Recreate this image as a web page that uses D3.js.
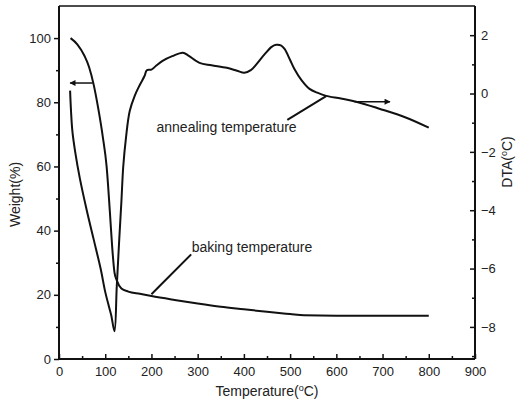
<!DOCTYPE html>
<html>
<head>
<meta charset="utf-8">
<script src="https://cdn.jsdelivr.net/npm/d3@7"></script>
<style>
  html, body { margin: 0; padding: 0; background: #fff; }
  svg { display: block; font-family: Arial, "Liberation Sans", sans-serif; }
</style>
</head>
<body>
<svg id="chart" width="518" height="402"></svg>
<script>
// ---- Data ----
const tgTemp = [25, 40, 55, 65, 75, 85, 95, 103, 110, 115, 120, 125, 135, 150, 175, 200, 250, 300, 350, 400, 450, 500, 530, 600, 700, 800];
const tgWeight = [100, 98, 94.5, 91, 85.5, 78, 69, 60, 46, 35, 27, 24.5, 22, 21, 20.3, 19.6, 18.4, 17.3, 16.3, 15.5, 14.7, 14, 13.6, 13.5, 13.5, 13.5];

const dtaTemp = [24, 26, 29, 35, 45, 60, 75, 90, 100, 108, 113, 120, 125, 130, 135, 139, 145, 153, 164, 175, 185, 190, 200, 210, 224, 245, 268, 280, 304, 330, 363, 385, 401, 415, 427, 445, 460, 470, 480, 488, 500, 509, 525, 542, 560, 578, 610, 643, 693, 750, 800];
const dtaValue = [0.1, -0.6, -1.3, -2.0, -2.9, -4.0, -5.0, -6.0, -6.8, -7.3, -7.6, -8.15, -6.6, -5.1, -3.7, -2.5, -1.5, -0.6, -0.07, 0.3, 0.6, 0.8, 0.82, 0.95, 1.12, 1.28, 1.40, 1.3, 1.05, 0.97, 0.88, 0.78, 0.71, 0.8, 1.0, 1.35, 1.6, 1.67, 1.65, 1.53, 1.15, 0.85, 0.45, 0.16, 0.02, -0.08, -0.17, -0.28, -0.52, -0.82, -1.17];

const xTicks = [0, 100, 200, 300, 400, 500, 600, 700, 800, 900];
const yLeftTicks = [0, 20, 40, 60, 80, 100];
const yRightTicks = [-8, -6, -4, -2, 0, 2];

const xDomain = [0, 900];
const yLeftDomain = [0, 110];
const yRightDomain = [-9.1, 3.0];

// annotations in data space
const leftArrow = { from: [73, 86], to: [24, 86] };               // weight axis
const rightArrow = { from: [639, -0.28], to: [716, -0.28] };      // DTA axis
const bakingLine = { from: [200, 20.2], to: [286, 32.6], label: "baking temperature", labelAt: [287, 33.3] };
const annealLine = { from: [494, -0.9], to: [578, -0.09], label: "annealing temperature", labelAt: [211, -1.33] };

// ---- Layout ----
const svg = d3.select("#chart");
const L = 59, R = 475, T = 6, B = 359;

const x = d3.scaleLinear().domain(xDomain).range([L, R]);
const yL = d3.scaleLinear().domain(yLeftDomain).range([B, T]);
const yR = d3.scaleLinear().domain(yRightDomain).range([B, T]);

const ink = "#111";

// frame top line
svg.append("line").attr("x1", L).attr("x2", R).attr("y1", T).attr("y2", T)
  .attr("stroke", ink).attr("stroke-width", 1.5);

// curves
const lineTG = d3.line().x((d, i) => x(tgTemp[i])).y((d, i) => yL(tgWeight[i])).curve(d3.curveMonotoneX);
svg.append("path").attr("d", lineTG(tgTemp)).attr("fill", "none").attr("stroke", ink).attr("stroke-width", 2).attr("stroke-linejoin", "round");

const lineDTA = d3.line().x((d, i) => x(dtaTemp[i])).y((d, i) => yR(dtaValue[i])).curve(d3.curveCatmullRom.alpha(0.5));
svg.append("path").attr("d", lineDTA(dtaTemp)).attr("fill", "none").attr("stroke", ink).attr("stroke-width", 2).attr("stroke-linejoin", "round");

// axes
function styleAxis(g) {
  g.selectAll(".domain").attr("stroke", ink).attr("stroke-width", 2);
  g.selectAll(".tick line").attr("stroke", ink).attr("stroke-width", 1.5);
  g.selectAll("text").attr("fill", "#222").style("font-size", "13px").style("font-family", "Arial, 'Liberation Sans', sans-serif");
}

// minor ticks
const xMinor = d3.range(50, 900, 100);
const yLMinor = d3.range(10, 110, 20);
const yRMinor = [-9, -7, -5, -3, -1, 1];

const gx = svg.append("g").attr("transform", `translate(0,${B})`)
  .call(d3.axisBottom(x).tickValues(xTicks).tickSizeInner(-5).tickSizeOuter(0).tickPadding(8).tickFormat(d3.format("d")));
styleAxis(gx);
svg.append("g").attr("transform", `translate(0,${B})`)
  .call(d3.axisBottom(x).tickValues(xMinor).tickSizeInner(-3).tickSizeOuter(0).tickFormat(""))
  .call(g => { g.select(".domain").remove(); g.selectAll("line").attr("stroke", ink).attr("stroke-width", 1.5); });

const gl = svg.append("g").attr("transform", `translate(${L},0)`)
  .call(d3.axisLeft(yL).tickValues(yLeftTicks).tickSizeInner(5).tickSizeOuter(0).tickPadding(3));
styleAxis(gl);
svg.append("g").attr("transform", `translate(${L},0)`)
  .call(d3.axisLeft(yL).tickValues(yLMinor).tickSizeInner(3).tickSizeOuter(0).tickFormat(""))
  .call(g => { g.select(".domain").remove(); g.selectAll("line").attr("stroke", ink).attr("stroke-width", 1.5); });

const gr = svg.append("g").attr("transform", `translate(${R},0)`)
  .call(d3.axisRight(yR).tickValues(yRightTicks).tickSizeInner(-5).tickSizeOuter(0).tickPadding(6).tickFormat(d3.format("d")));
styleAxis(gr);
svg.append("g").attr("transform", `translate(${R},0)`)
  .call(d3.axisRight(yR).tickValues(yRMinor).tickSizeInner(-3).tickSizeOuter(0).tickFormat(""))
  .call(g => { g.select(".domain").remove(); g.selectAll("line").attr("stroke", ink).attr("stroke-width", 1.5); });

// fix domain ends to full frame
gl.select(".domain").attr("d", `M0,${B}V${T}`);
gr.select(".domain").attr("d", `M0,${B}V${T}`);
gx.select(".domain").attr("d", `M${L},0H${R}`);

// axis titles
const titleStyle = t => t.attr("fill", "#222").style("font-size", "14px").style("font-family", "Arial, 'Liberation Sans', sans-serif");

const xt = svg.append("text").attr("x", (L + R) / 2).attr("y", 396).attr("text-anchor", "middle").call(titleStyle);
xt.append("tspan").text("Temperature(");
xt.append("tspan").text("o").style("font-size", "9px").attr("dy", "-5");
xt.append("tspan").text("C)").attr("dy", "5");

svg.append("text").attr("transform", `translate(20,${(T + B) / 2 + 12}) rotate(-90)`)
  .attr("text-anchor", "middle").text("Weight(%)").call(titleStyle);

const yt = svg.append("text").attr("transform", `translate(512,162) rotate(-90)`).attr("text-anchor", "middle").call(titleStyle);
yt.append("tspan").text("DTA(");
yt.append("tspan").text("o").style("font-size", "9px").attr("dy", "-5");
yt.append("tspan").text("C)").attr("dy", "5");

// arrow marker
svg.append("defs").append("marker").attr("id", "arrow").attr("viewBox", "0 0 10 10")
  .attr("refX", 9).attr("refY", 5).attr("markerWidth", 5).attr("markerHeight", 4)
  .attr("markerUnits", "strokeWidth").attr("orient", "auto")
  .append("path").attr("d", "M0,0 L10,5 L0,10 z").attr("fill", ink);

svg.append("line")
  .attr("x1", x(leftArrow.from[0])).attr("y1", yL(leftArrow.from[1]))
  .attr("x2", x(leftArrow.to[0])).attr("y2", yL(leftArrow.to[1]))
  .attr("stroke", ink).attr("stroke-width", 1.5).attr("marker-end", "url(#arrow)");
svg.append("line")
  .attr("x1", x(rightArrow.from[0])).attr("y1", yR(rightArrow.from[1]))
  .attr("x2", x(rightArrow.to[0])).attr("y2", yR(rightArrow.to[1]))
  .attr("stroke", ink).attr("stroke-width", 1.5).attr("marker-end", "url(#arrow)");

// pointer lines and labels
svg.append("line")
  .attr("x1", x(bakingLine.from[0])).attr("y1", yL(bakingLine.from[1]))
  .attr("x2", x(bakingLine.to[0])).attr("y2", yL(bakingLine.to[1]))
  .attr("stroke", ink).attr("stroke-width", 2);
svg.append("text").attr("x", x(bakingLine.labelAt[0])).attr("y", yL(bakingLine.labelAt[1]))
  .text(bakingLine.label).call(titleStyle);

svg.append("line")
  .attr("x1", x(annealLine.from[0])).attr("y1", yR(annealLine.from[1]))
  .attr("x2", x(annealLine.to[0])).attr("y2", yR(annealLine.to[1]))
  .attr("stroke", ink).attr("stroke-width", 2);
svg.append("text").attr("x", x(annealLine.labelAt[0])).attr("y", yR(annealLine.labelAt[1]))
  .text(annealLine.label).call(titleStyle);
</script>
</body>
</html>
